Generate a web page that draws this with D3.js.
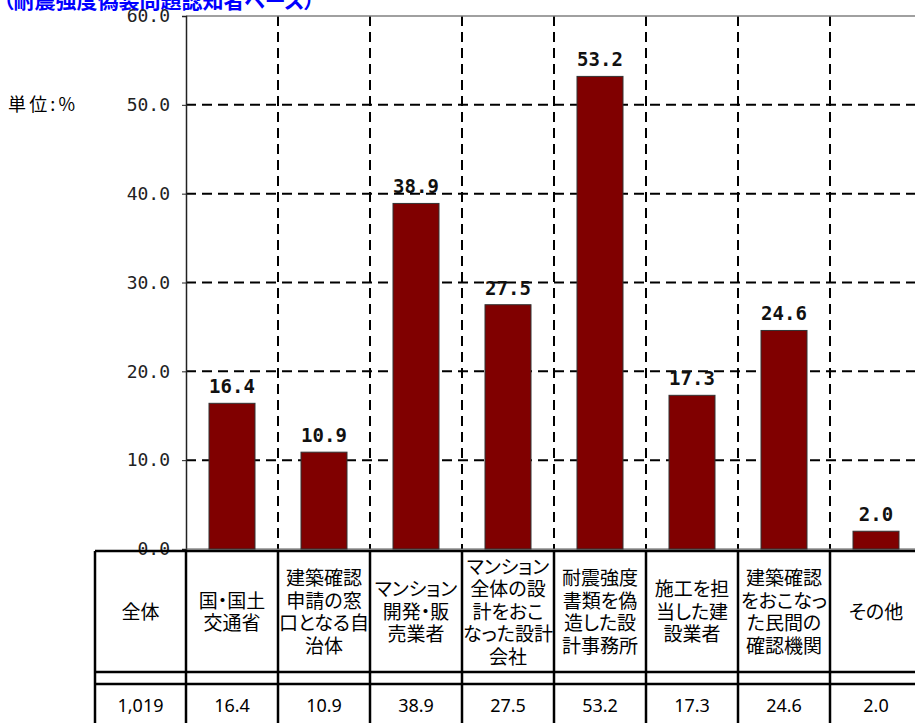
<!DOCTYPE html>
<html>
<head>
<meta charset="utf-8">
<script src="https://cdn.jsdelivr.net/npm/d3@7"></script>
<style>
  html, body { margin: 0; padding: 0; background: #fff; }
  svg { display: block; }
  .jp { font-family: "Noto Sans CJK JP", "Noto Sans", sans-serif; font-feature-settings: "palt"; }
  .mono { font-family: "DejaVu Sans Mono", "Liberation Mono", monospace; }
</style>
</head>
<body>
<svg id="chart" width="915" height="723"></svg>
<script>
// ---- data ----
const titleText = "（耐震強度偽装問題認知者ベース）";
const unitText = "単位:%";
const categories = ["国・国土交通省", "建築確認申請の窓口となる自治体", "マンション開発・販売業者", "マンション全体の設計をおこなった設計会社", "耐震強度書類を偽造した設計事務所", "施工を担当した建設業者", "建築確認をおこなった民間の確認機関", "その他"];
const categoryLines = [
  ["国・国土", "交通省"],
  ["建築確認", "申請の窓", "口となる自", "治体"],
  ["マンション", "開発・販", "売業者"],
  ["マンション", "全体の設", "計をおこ", "なった設計", "会社"],
  ["耐震強度", "書類を偽", "造した設", "計事務所"],
  ["施工を担", "当した建", "設業者"],
  ["建築確認", "をおこなっ", "た民間の", "確認機関"],
  ["その他"]
];
const values = [16.4, 10.9, 38.9, 27.5, 53.2, 17.3, 24.6, 2.0];
const totalLabel = "全体";
const totalN = "1,019";
const yTicks = [0, 10, 20, 30, 40, 50, 60];

// ---- layout ----
const svg = d3.select("#chart");
const plotLeft = 186, plotRight = 922, plotTop = 16, plotBottom = 549;
const tableLeft = 95, tableTop = 551, row1Bottom = 672, row2Bottom = 684, tableBottom = 723;

const x = d3.scaleBand().domain(categories).range([plotLeft, plotRight]).padding(0);
const y = d3.scaleLinear().domain([0, 60]).range([plotBottom, plotTop]);

// title
svg.append("text").attr("class", "jp")
  .attr("x", 3).attr("y", 8)
  .attr("fill", "#0000ff").attr("font-weight", "bold").attr("font-size", 21)
  .text(titleText);

// unit
svg.append("text").attr("class", "jp")
  .attr("x", 8).attr("y", y(50)).attr("dy", "0.35em")
  .attr("font-size", 18).attr("fill", "#000")
  .attr("textLength", 67).attr("lengthAdjust", "spacing")
  .text(unitText);

// gridlines horizontal (dashed)
svg.append("g").selectAll("line").data(yTicks.filter(d => d > 0 && d < 60)).join("line")
  .attr("x1", plotLeft).attr("x2", plotRight)
  .attr("y1", d => y(d)).attr("y2", d => y(d))
  .attr("stroke", "#000").attr("stroke-width", 2).attr("stroke-dasharray", "10,6");

// gridlines vertical (dashed) at category boundaries
svg.append("g").selectAll("line").data(categories.slice(1)).join("line")
  .attr("x1", d => x(d)).attr("x2", d => x(d))
  .attr("y1", plotTop).attr("y2", plotBottom)
  .attr("stroke", "#000").attr("stroke-width", 2).attr("stroke-dasharray", "10,6");

// top border
svg.append("line").attr("x1", plotLeft).attr("x2", plotRight)
  .attr("y1", plotTop).attr("y2", plotTop)
  .attr("stroke", "#808080").attr("stroke-width", 1.5);

// y axis
const yAxis = d3.axisLeft(y).tickValues(yTicks).tickSize(4).tickPadding(12)
  .tickFormat(d => d3.format(".1f")(d));
const gy = svg.append("g").attr("transform", `translate(${plotLeft},0)`).call(yAxis);
gy.select(".domain").attr("stroke", "#222").attr("stroke-width", 1.5);
gy.selectAll(".tick line").attr("stroke", "#222");
gy.selectAll(".tick text").attr("class", "mono").attr("font-size", 18).attr("fill", "#222");

// baseline of plot
svg.append("line").attr("x1", plotLeft).attr("x2", plotRight)
  .attr("y1", plotBottom).attr("y2", plotBottom)
  .attr("stroke", "#555").attr("stroke-width", 1);

// bars
const barW = x.bandwidth() * 0.5;
svg.append("g").selectAll("rect").data(values).join("rect")
  .attr("x", (d, i) => x(categories[i]) + (x.bandwidth() - barW) / 2)
  .attr("width", barW)
  .attr("y", d => y(d))
  .attr("height", d => y(0) - y(d))
  .attr("fill", "#800000").attr("stroke", "#333").attr("stroke-width", 1);

// value labels
svg.append("g").selectAll("text").data(values).join("text")
  .attr("class", "mono")
  .attr("x", (d, i) => x(categories[i]) + x.bandwidth() / 2)
  .attr("y", d => y(d) - 10)
  .attr("text-anchor", "middle").attr("font-weight", "bold").attr("font-size", 19).attr("fill", "#111")
  .text(d => d3.format(".1f")(d));

// ---- table ----
const tbl = svg.append("g");
const colEdges = [tableLeft].concat(categories.map(c => x(c))).concat([plotRight]);
[tableTop, row1Bottom, row2Bottom].forEach(yy => {
  tbl.append("line").attr("x1", tableLeft).attr("x2", plotRight)
    .attr("y1", yy).attr("y2", yy).attr("stroke", "#000").attr("stroke-width", 2.5);
});
tbl.selectAll("line.v").data(colEdges).join("line").attr("class", "v")
  .attr("x1", d => d).attr("x2", d => d)
  .attr("y1", tableTop).attr("y2", tableBottom)
  .attr("stroke", "#000").attr("stroke-width", 2.5);

const headerCenter = 612, lineH = 22.5;
const allLines = [[totalLabel]].concat(categoryLines);
const colCenters = [(tableLeft + plotLeft) / 2].concat(categories.map(c => x(c) + x.bandwidth() / 2));
allLines.forEach((lines, i) => {
  lines.forEach((ln, j) => {
    tbl.append("text").attr("class", "jp")
      .attr("text-anchor", "middle").attr("font-size", 19).attr("fill", "#000")
      .attr("x", colCenters[i])
      .attr("y", headerCenter + (j - (lines.length - 1) / 2) * lineH)
      .attr("dy", "0.36em")
      .text(ln);
  });
});

const rowValues = [totalN].concat(values.map(v => d3.format(".1f")(v)));
tbl.selectAll("text.val").data(rowValues).join("text").attr("class", "val")
  .attr("x", (d, i) => colCenters[i]).attr("y", 706).attr("dy", "0.36em")
  .attr("text-anchor", "middle").attr("font-size", 18).attr("fill", "#000")
  .style("font-family", "'Noto Sans', sans-serif")
  .text(d => d);
</script>
</body>
</html>
